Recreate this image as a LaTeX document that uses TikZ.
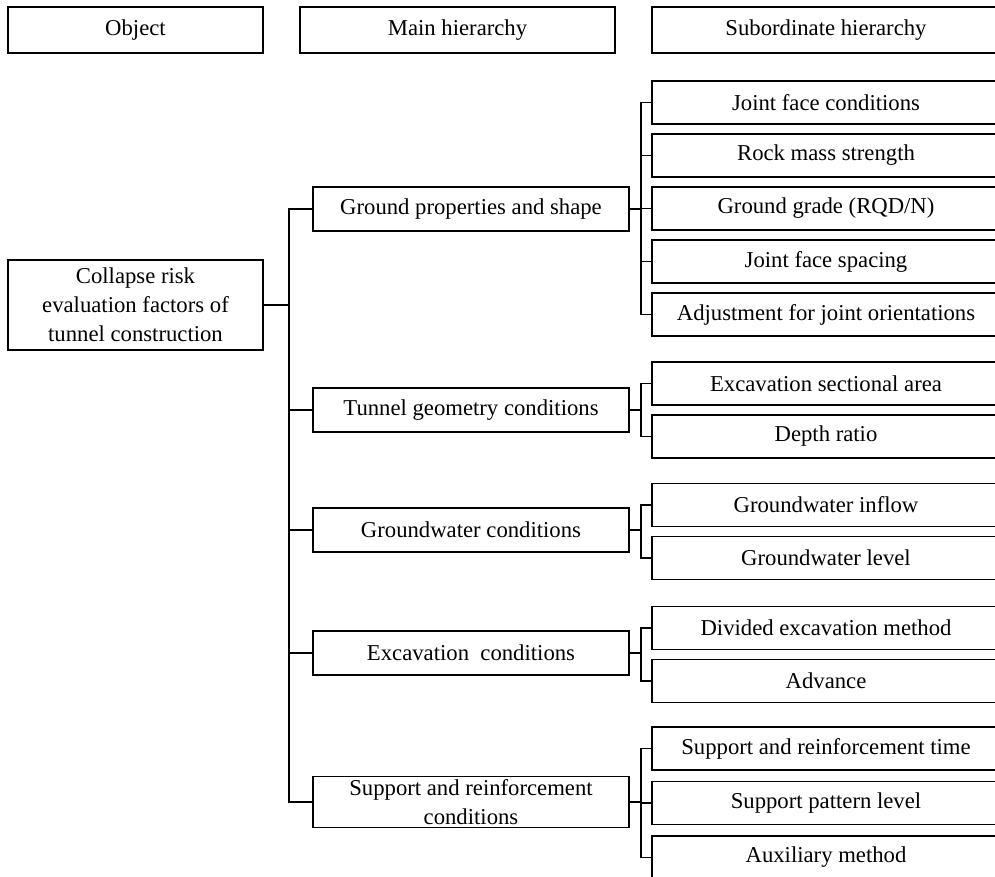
\documentclass[tikz,border=0pt]{standalone}
\usepackage{fontspec}
\setmainfont{Liberation Serif}
\usetikzlibrary{positioning}

\tikzset{
  box/.style={draw, line width=1.5pt, inner sep=0pt, outer sep=0pt, align=center,
    minimum height=43pt, font=\fontsize{22.7}{29}\selectfont},
  headbox/.style={box, minimum height=46pt},
  mainbox/.style={box, minimum width=316pt, minimum height=44pt},
  subbox/.style={box, minimum width=348pt},
  link/.style={line width=1.5pt}
}

\begin{document}
\begin{tikzpicture}[x=1pt,y=-1pt,node distance=10pt]
\useasboundingbox (0,0) rectangle (995,876);
\clip (0,0) rectangle (995,876);

% headings
\node[headbox,minimum width=255pt] (object) at (135.5,30) {Object};
\node[headbox,minimum width=315pt] (main) at (457.5,30) {Main hierarchy};
\node[headbox,minimum width=348pt] (sub) at (826,30) {Subordinate hierarchy};

% object
\node[box,minimum width=255pt,minimum height=90pt] (risk) at (135.5,305)
  {Collapse risk\\evaluation factors of\\tunnel construction};

% main hierarchy
\node[mainbox] (ground) at (471,209) {Ground properties and shape};
\node[mainbox] (geometry) at (471,410) {Tunnel geometry conditions};
\node[mainbox] (water) at (471,530) {Groundwater conditions};
\node[mainbox] (excav) at (471,653) {Excavation~ conditions};
\node[mainbox,minimum height=51pt] (support) at (471,802)
  {Support and reinforcement\\conditions};

% subordinate hierarchy
\node[subbox] (jcond) at (826,102.5) {Joint face conditions};
\node[subbox,below=of jcond] (rock) {Rock mass strength};
\node[subbox,below=of rock] (grade) {Ground grade (RQD/N)};
\node[subbox,below=of grade] (jspace) {Joint face spacing};
\node[subbox,below=of jspace] (orient) {Adjustment for joint orientations};

\node[subbox] (area) at (826,383.5) {Excavation sectional area};
\node[subbox,below=of area] (depth) {Depth ratio};

\node[subbox] (inflow) at (826,505) {Groundwater inflow};
\node[subbox,below=of inflow] (level) {Groundwater level};

\node[subbox] (divided) at (826,628) {Divided excavation method};
\node[subbox,below=of divided] (advance) {Advance};

\node[subbox] (stime) at (826,748.5) {Support and reinforcement time};
\node[subbox,below=11.5pt of stime] (pattern) {Support pattern level};
\node[subbox,below=11.5pt of pattern] (aux) {Auxiliary method};

% brackets
\coordinate (trunk) at ([xshift=26pt]risk.east);
\draw[link] (risk.east) -- (trunk) |- (ground)
  (trunk) |- (geometry) (trunk) |- (water)
  (trunk) |- (excav) (trunk) |- (support);

\coordinate (b1) at ([xshift=12pt]ground.east);
\draw[link] (ground.east) -- (b1) |- (jcond) (b1) |- (rock)
  (b1) |- (grade) (b1) |- (jspace) (b1) |- (orient);

\coordinate (b2) at ([xshift=12pt]geometry.east);
\draw[link] (geometry.east) -- (b2) |- (area) (b2) |- (depth);

\coordinate (b3) at ([xshift=12pt]water.east);
\draw[link] (water.east) -- (b3) |- (inflow) (b3) |- (level);

\coordinate (b4) at ([xshift=12pt]excav.east);
\draw[link] (excav.east) -- (b4) |- (divided) (b4) |- (advance);

\coordinate (b5) at ([xshift=12pt]support.east);
\draw[link] (support.east) -- (b5) |- (stime) (b5) |- (pattern) (b5) |- (aux);
\end{tikzpicture}
\end{document}
